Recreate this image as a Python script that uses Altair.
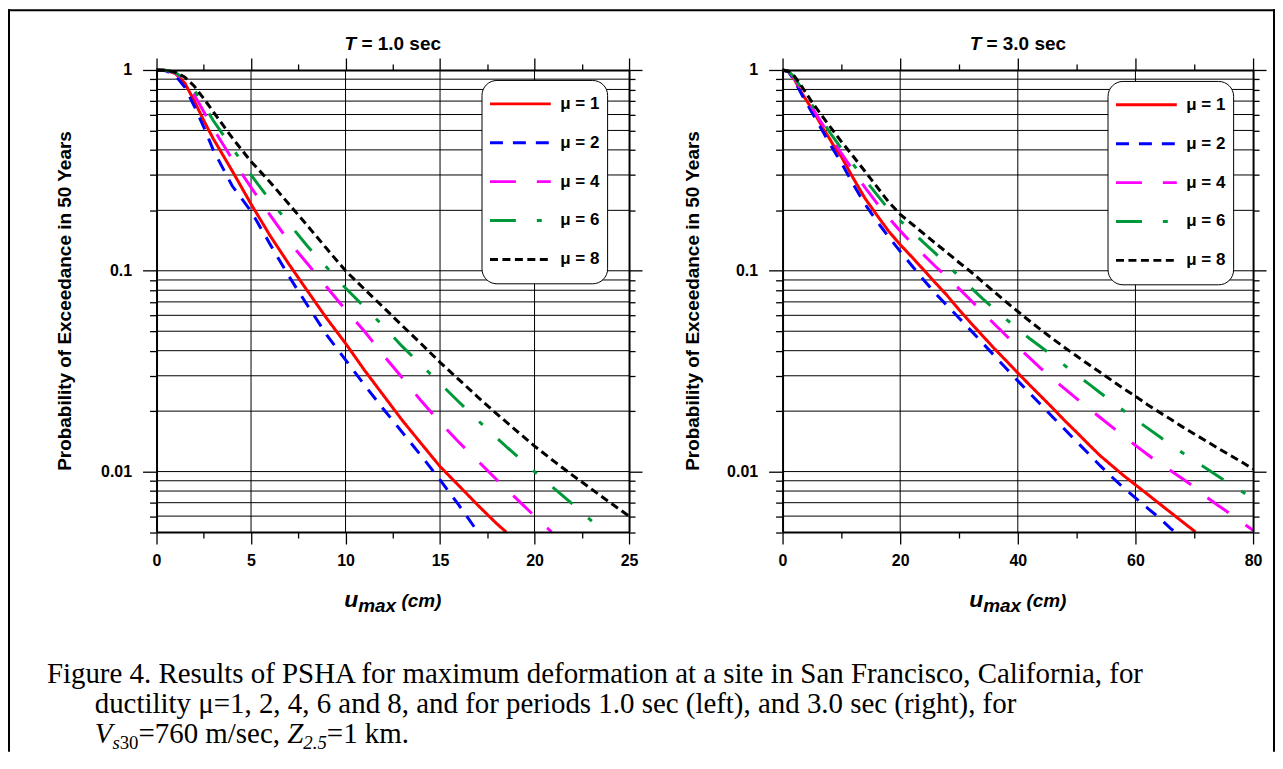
import altair as alt
import pandas as pd

# ---------------- data ----------------
SERIES = ["μ = 1", "μ = 2", "μ = 4", "μ = 6", "μ = 8"]
COLORS = ["#ff0000", "#0000ff", "#ff00ff", "#00993a", "#000000"]
DASHES = [[1, 0], [13, 10], [26, 21], [26, 21, 5, 21], [8, 4.5]]

# T = 1.0 sec
T1_U_MU1 = [0, 0.5, 1, 1.5, 2, 2.5, 3, 4, 5, 6, 7, 8, 9, 10, 11, 12, 13, 14, 15, 16, 17, 18, 18.5]
T1_P_MU1 = [1.0, 0.995, 0.96, 0.86, 0.7, 0.56, 0.455, 0.315, 0.215, 0.15, 0.108, 0.079, 0.058, 0.0435,
            0.032, 0.024, 0.018, 0.0138, 0.0106, 0.0085, 0.0068, 0.0055, 0.005]
T1_U_MU2 = [0, 0.5, 1, 1.5, 2, 2.5, 3, 4, 5, 6, 7, 8, 9, 10, 11, 12, 13, 14, 15, 16, 17]
T1_P_MU2 = [1.0, 0.99, 0.94, 0.82, 0.66, 0.52, 0.4, 0.265, 0.198, 0.136, 0.094, 0.067, 0.048, 0.036,
            0.027, 0.0205, 0.0157, 0.012, 0.0091, 0.0068, 0.005]
T1_U_MU4 = [0, 0.5, 1, 1.5, 2, 2.5, 3, 4, 5, 6, 7, 8, 9, 10, 11, 12, 13, 14, 15, 16, 17, 18, 19, 20, 20.9]
T1_P_MU4 = [1.0, 0.995, 0.965, 0.88, 0.75, 0.62, 0.51, 0.36, 0.26, 0.19, 0.14, 0.108, 0.083, 0.064,
            0.05, 0.038, 0.0293, 0.0225, 0.0176, 0.014, 0.0113, 0.0091, 0.0074, 0.006, 0.005]
T1_U_MU6 = [0, 0.5, 1, 1.5, 2, 2.5, 3, 4, 5, 6, 7, 8, 9, 10, 11, 12, 13, 14, 15, 16, 17, 18, 19, 20,
            21, 22, 23, 23.7]
T1_P_MU6 = [1.0, 0.997, 0.97, 0.9, 0.79, 0.67, 0.56, 0.41, 0.30, 0.225, 0.172, 0.132, 0.104, 0.082,
            0.066, 0.053, 0.042, 0.034, 0.0275, 0.0222, 0.018, 0.0147, 0.0121, 0.01, 0.0083, 0.0069,
            0.0057, 0.005]
T1_U_MU8 = [0, 0.5, 1, 1.5, 2, 2.5, 3, 4, 5, 6, 7, 8, 9, 10, 11, 12, 13, 14, 15, 16, 17, 18, 19, 20,
            21, 22, 23, 24, 25]
T1_P_MU8 = [1.0, 0.997, 0.975, 0.92, 0.83, 0.72, 0.62, 0.46, 0.35, 0.277, 0.215, 0.167, 0.129, 0.1,
            0.081, 0.0658, 0.0533, 0.0433, 0.035, 0.0287, 0.0235, 0.0194, 0.0161, 0.0134, 0.0113,
            0.0096, 0.0082, 0.007, 0.006]

# T = 3.0 sec
T3_U_MU1 = [0, 1, 2, 3, 4, 5, 6, 7, 8, 9, 10, 12, 14, 16, 18, 20, 22, 24, 26, 28, 30, 32, 34, 36, 38,
            40, 42, 44, 46, 48, 50, 52, 54, 56, 58, 60, 62, 64, 66, 68, 70, 70.2]
T3_P_MU1 = [1.0, 0.98, 0.9, 0.79, 0.71, 0.64, 0.57, 0.505, 0.455, 0.405, 0.37, 0.29, 0.23, 0.19,
            0.158, 0.135, 0.117, 0.101, 0.087, 0.0752, 0.064, 0.055, 0.0475, 0.041, 0.0357, 0.031,
            0.027, 0.0236, 0.0206, 0.0179, 0.0157, 0.0137, 0.012, 0.0107, 0.00955, 0.00859, 0.00773,
            0.00695, 0.00625, 0.00562, 0.00506, 0.005]
T3_U_MU2 = [0, 1, 2, 3, 4, 5, 6, 7, 8, 9, 10, 12, 14, 16, 18, 20, 22, 24, 26, 28, 30, 32, 34, 36, 38,
            40, 42, 44, 46, 48, 50, 52, 54, 56, 58, 60, 62, 64, 66, 66.8]
T3_P_MU2 = [1.0, 0.98, 0.89, 0.78, 0.69, 0.615, 0.545, 0.485, 0.43, 0.385, 0.345, 0.27, 0.215, 0.177,
            0.148, 0.125, 0.106, 0.09, 0.077, 0.067, 0.0582, 0.0505, 0.0437, 0.0378, 0.0327, 0.0283,
            0.0246, 0.0214, 0.0186, 0.0162, 0.0141, 0.0123, 0.0107, 0.0094, 0.0083, 0.0074, 0.0066,
            0.0059, 0.0052, 0.005]
T3_U_MU4 = [0, 1, 2, 3, 4, 5, 6, 7, 8, 9, 10, 12, 14, 16, 18, 20, 22, 24, 26, 28, 30, 32, 34, 36, 38,
            40, 42, 44, 46, 48, 50, 52, 54, 56, 58, 60, 62, 64, 66, 68, 70, 72, 74, 76, 78, 80]
T3_P_MU4 = [1.0, 0.985, 0.91, 0.81, 0.72, 0.65, 0.585, 0.525, 0.47, 0.425, 0.385, 0.315, 0.26, 0.218,
            0.184, 0.158, 0.137, 0.12, 0.105, 0.093, 0.0815, 0.0713, 0.0622, 0.0543, 0.0476, 0.0418,
            0.0368, 0.0325, 0.0289, 0.0258, 0.0231, 0.0207, 0.0186, 0.0167, 0.015, 0.0135, 0.0122,
            0.011, 0.0101, 0.0092, 0.0084, 0.0075, 0.0068, 0.0062, 0.0056, 0.0051]
T3_U_MU6 = [0, 1, 2, 3, 4, 5, 6, 7, 8, 10, 12, 14, 16, 18, 20, 22, 24, 26, 28, 30, 32, 34, 36, 38, 40,
            42, 44, 46, 48, 50, 52, 54, 56, 58, 60, 62, 64, 66, 68, 70, 72, 74, 76, 78, 80]
T3_P_MU6 = [1.0, 0.985, 0.92, 0.83, 0.745, 0.67, 0.605, 0.545, 0.49, 0.407, 0.339, 0.285, 0.24, 0.203,
            0.178, 0.157, 0.138, 0.122, 0.107, 0.0938, 0.0826, 0.0726, 0.0646, 0.0575, 0.0513, 0.046,
            0.0416, 0.0375, 0.0337, 0.0303, 0.0274, 0.0247, 0.0223, 0.0201, 0.0182, 0.0165, 0.015,
            0.0136, 0.0124, 0.0113, 0.0104, 0.0095, 0.0087, 0.008, 0.0073]
T3_U_MU8 = [0, 1, 2, 3, 4, 5, 6, 7, 8, 10, 12, 14, 16, 18, 20, 22, 24, 26, 28, 30, 32, 34, 36, 38, 40,
            42, 44, 46, 48, 50, 52, 54, 56, 58, 60, 62, 64, 66, 68, 70, 72, 74, 76, 78, 80]
T3_P_MU8 = [1.0, 0.986, 0.933, 0.851, 0.767, 0.692, 0.631, 0.575, 0.525, 0.44, 0.372, 0.313, 0.263,
            0.221, 0.191, 0.171, 0.153, 0.137, 0.123, 0.11, 0.0989, 0.0881, 0.0785, 0.07, 0.0627,
            0.0562, 0.0506, 0.0457, 0.0414, 0.0376, 0.0342, 0.0312, 0.0284, 0.0259, 0.0237, 0.0216,
            0.0198, 0.0182, 0.0167, 0.0154, 0.0142, 0.0131, 0.0121, 0.0112, 0.0103]

# axis tick values
Y_MAJOR = [0.01, 0.1, 1]
Y_GRID_MAJOR = [0.01, 0.1]
Y_TICKS_MINOR = [0.005, 0.006, 0.007, 0.008, 0.009, 0.02, 0.03, 0.04, 0.05, 0.06, 0.07, 0.08, 0.09,
                 0.2, 0.3, 0.4, 0.5, 0.6, 0.7, 0.8, 0.9]
Y_GRID_MINOR = [v for v in Y_TICKS_MINOR if v != 0.005]
Y_DOMAIN = [0.005, 1]

P1_X_DOMAIN = [0, 25]
P1_X_MAJOR = [0, 5, 10, 15, 20, 25]
P1_X_MINOR = [2.5, 7.5, 12.5, 17.5, 22.5]
P1_X_GRID = [5, 10, 15, 20]
P2_X_DOMAIN = [0, 80]
P2_X_MAJOR = [0, 20, 40, 60, 80]
P2_X_MINOR = [10, 30, 50, 70]
P2_X_GRID = [20, 40, 60]

# texts
TITLE_T = "T"
TITLE_REST = ["= 1.0 sec", "= 3.0 sec"]
Y_TITLE = "Probability of Exceedance in 50 Years"
X_TITLE = ["u", "max", "(cm)"]
CAPTION_LINES = [
    "Figure 4. Results of PSHA for maximum deformation at a site in San Francisco, California, for",
    "ductility μ=1, 2, 4, 6 and 8, and for periods 1.0 sec (left), and 3.0 sec (right), for",
]
CAPTION_LAST = [("V", "italic", False), ("s", "italic", True), ("30", "normal", True),
                ("=760 m/sec,", "normal", False), ("Z", "italic", False),
                ("2.5", "italic", True), ("=1 km.", "normal", False)]

# ---------------- layout ----------------
W, H = 1271, 745
Y_TOP, Y_BOT = 61.0, 524.5
P1_XR = [149.0, 623.0]
P2_XR = [777.0, 1249.0]
SANS = "Liberation Sans"
SERIF = "Liberation Serif"

ARIAL_B = {"u": .611, "m": .889, "a": .556, "x": .556, " ": .278, "(": .333, "c": .556, ")": .333,
           "T": .611, "=": .584, "1": .556, "3": .556, ".": .278, "0": .556, "s": .556, "e": .556}
TIMES = {"V": .611, "s": .389, "3": .5, "0": .5, "=": .564, "7": .5, "6": .5, " ": .25, "m": .778,
         "/": .278, "e": .444, "c": .444, ",": .25, "Z": .556, "2": .5, ".": .25, "5": .5, "1": .5,
         "k": .5}


def tw(s, table, size):
    return sum(table.get(ch, 0.5) for ch in s) * size


def text(txt, x, y, size, font=SANS, weight="normal", style="normal", align="left",
         baseline="alphabetic", angle=0):
    return alt.Chart(pd.DataFrame({"t": [txt]})).mark_text(
        font=font, fontSize=size, fontWeight=weight, fontStyle=style, align=align,
        baseline=baseline, angle=angle, color="black"
    ).encode(text="t:N", x=alt.value(x), y=alt.value(y))


def long_df(us, ps):
    rows = []
    for name, u, p in zip(SERIES, us, ps):
        for a, b in zip(u, p):
            rows.append({"u": a, "p": b, "mu": name})
    return pd.DataFrame(rows)


def panel(xdom, xr, xmaj, xmin, xgrid, df, leg_x, leg_y):
    xsc = alt.Scale(domain=xdom, range=xr, nice=False, zero=False)
    ysc = alt.Scale(type="log", domain=Y_DOMAIN, range=[Y_BOT, Y_TOP], nice=False)
    offs = {"left": -xr[0], "right": xr[1] - W, "top": -Y_TOP, "bottom": Y_BOT - H}

    def ax(orient, values, size, labels=False, domain=False, **kw):
        return alt.Axis(orient=orient, values=values, tickSize=size, labels=labels, domain=domain,
                        offset=offs[orient], grid=False, title=None, tickColor="black",
                        tickWidth=1.3, domainColor="black", domainWidth=2, zindex=1, **kw)

    lab = dict(labelFont=SANS, labelFontSize=16, labelFontWeight="bold", labelColor="black")

    hmin = alt.Chart(pd.DataFrame({"v": Y_GRID_MINOR})).mark_rule(color="black", strokeWidth=1).encode(
        y=alt.Y("v:Q", scale=ysc, axis=ax("left", Y_TICKS_MINOR, 7)),
        x=alt.X(datum=xdom[0], scale=xsc, axis=ax("bottom", xmin, 6)),
        x2=alt.X2(datum=xdom[1]),
    )
    hmaj = alt.Chart(pd.DataFrame({"v": Y_GRID_MAJOR})).mark_rule(color="black", strokeWidth=1).encode(
        y=alt.Y("v:Q", scale=ysc, axis=ax("right", Y_MAJOR, 13, domain=True)),
        x=alt.X(datum=xdom[0], scale=xsc, axis=ax("top", xmaj, 12, domain=True)),
        x2=alt.X2(datum=xdom[1]),
    )
    vgrid = alt.Chart(pd.DataFrame({"v": xgrid})).mark_rule(color="black", strokeWidth=1).encode(
        x=alt.X("v:Q", scale=xsc, axis=ax("top", xmin, 6)),
        y=alt.Y(datum=Y_DOMAIN[0], scale=ysc, axis=ax("right", Y_TICKS_MINOR, 6)),
        y2=alt.Y2(datum=Y_DOMAIN[1]),
    )
    leg = alt.Legend(orient="none", legendX=leg_x, legendY=leg_y, symbolType="stroke",
                     symbolSize=3721, symbolStrokeWidth=3, labelFont=SANS, labelFontSize=17,
                     labelFontWeight="bold", labelColor="black", strokeColor="black",
                     fillColor="white", cornerRadius=15, padding=7, clipHeight=34, rowPadding=5,
                     labelOffset=8, symbolOffset=0)
    lines = alt.Chart(df).mark_line(strokeWidth=3).encode(
        x=alt.X("u:Q", scale=xsc,
                axis=ax("bottom", xmaj, 12, labels=True, domain=True, labelFlush=False,
                        labelOverlap=False, labelPadding=9, **lab)),
        y=alt.Y("p:Q", scale=ysc,
                axis=ax("left", Y_MAJOR, 14, labels=True, domain=True, format="~g",
                        labelPadding=11, **lab)),
        color=alt.Color("mu:N", title=None, scale=alt.Scale(domain=SERIES, range=COLORS), legend=leg),
        strokeDash=alt.StrokeDash("mu:N", title=None, scale=alt.Scale(domain=SERIES, range=DASHES),
                                  legend=leg),
    )
    return [hmin, hmaj, vgrid, lines]


def panel_texts(title_rest, xc, ytitle_x):
    out = []
    F = 19
    total = tw("T " + title_rest, ARIAL_B, F)
    x0 = xc - total / 2
    out.append(text(TITLE_T, x0, 41.3, F, weight="bold", style="italic"))
    out.append(text(title_rest, x0 + tw("T ", ARIAL_B, F), 41.3, F, weight="bold"))
    out.append(text(Y_TITLE, ytitle_x, (Y_TOP + Y_BOT) / 2, 19, weight="bold", align="center",
                    baseline="middle", angle=270))
    fu, fs = 23, 19
    wu = tw(X_TITLE[0], ARIAL_B, fu)
    wm = tw(X_TITLE[1], ARIAL_B, fs)
    wc = tw(X_TITLE[2], ARIAL_B, fs)
    sp = tw(" ", ARIAL_B, fs)
    x0 = xc - (wu + wm + sp + wc) / 2
    out.append(text(X_TITLE[0], x0, 600, fu, weight="bold", style="italic"))
    out.append(text(X_TITLE[1], x0 + wu, 605, fs, weight="bold", style="italic"))
    out.append(text(X_TITLE[2], x0 + wu + wm + sp, 600, fs, weight="bold", style="italic"))
    return out


layers = []
layers += panel(P1_X_DOMAIN, P1_XR, P1_X_MAJOR, P1_X_MINOR, P1_X_GRID,
                long_df([T1_U_MU1, T1_U_MU2, T1_U_MU4, T1_U_MU6, T1_U_MU8],
                        [T1_P_MU1, T1_P_MU2, T1_P_MU4, T1_P_MU6, T1_P_MU8]), 475, 71)
layers += panel(P2_X_DOMAIN, P2_XR, P2_X_MAJOR, P2_X_MINOR, P2_X_GRID,
                long_df([T3_U_MU1, T3_U_MU2, T3_U_MU4, T3_U_MU6, T3_U_MU8],
                        [T3_P_MU1, T3_P_MU2, T3_P_MU4, T3_P_MU6, T3_P_MU8]), 1103, 72)
layers += panel_texts(TITLE_REST[0], (P1_XR[0] + P1_XR[1]) / 2, 57)
layers += panel_texts(TITLE_REST[1], (P2_XR[0] + P2_XR[1]) / 2, 687)

# caption
CF = 29
layers.append(text(CAPTION_LINES[0], 39, 676, CF, font=SERIF))
layers.append(text(CAPTION_LINES[1], 87, 706, CF, font=SERIF))
cx = 87
for piece, style, sub in CAPTION_LAST:
    size = CF * 0.65 if sub else CF
    layers.append(text(piece, cx, 736 + (CF * 0.2 if sub else 0), size, font=SERIF, style=style))
    cx += tw(piece, TIMES, size)
    if piece.endswith(","):
        cx += tw(" ", TIMES, CF)

# outer frame (left, top, right)
frame = pd.DataFrame({"k": [0]})
layers.append(alt.Chart(frame).mark_rule(color="black", strokeWidth=2).encode(
    x=alt.value(1), y=alt.value(0), y2=alt.value(H)))
layers.append(alt.Chart(frame).mark_rule(color="black", strokeWidth=2).encode(
    x=alt.value(0), x2=alt.value(W), y=alt.value(1)))
layers.append(alt.Chart(frame).mark_rule(color="black", strokeWidth=2).encode(
    x=alt.value(W - 1), y=alt.value(0), y2=alt.value(H)))

chart = alt.layer(*layers).resolve_scale(
    x="independent", y="independent", color="independent", strokeDash="independent"
).resolve_axis(x="independent", y="independent").resolve_legend(
    color="independent", strokeDash="independent"
).properties(
    width=W, height=H, autosize=alt.AutoSizeParams(type="none"), padding=0
).configure_view(stroke=None)

chart.save("out.html", embed_options={"renderer": "svg", "actions": False})
